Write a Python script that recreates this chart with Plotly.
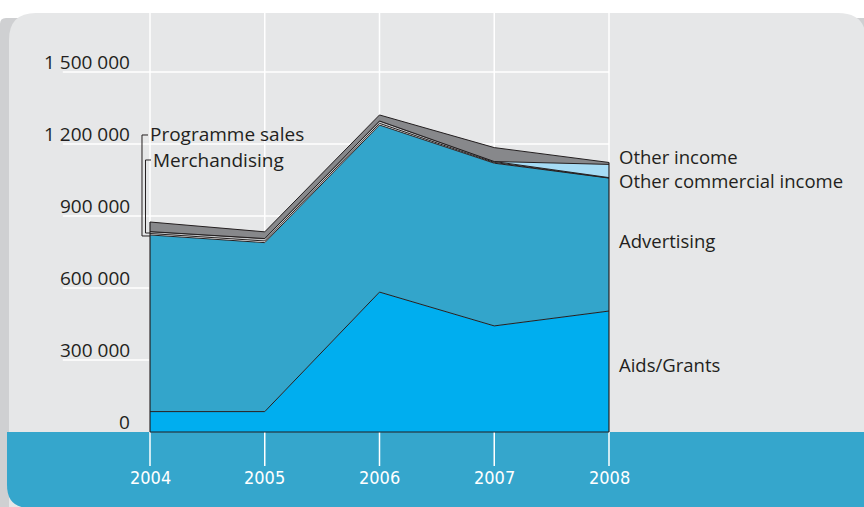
import numpy as np
import plotly.graph_objects as go

# ---------------- data ----------------
years = [2004, 2005, 2006, 2007, 2008]
aids_grants = [85000, 85000, 583000, 442000, 504000]
advertising = [736000, 704000, 696000, 678000, 554000]
programme_sales = [6000, 7000, 7000, 3000, 1000]
merchandising = [8000, 10000, 10000, 4000, 1000]
other_commercial_income = [0, 0, 0, 0, 55000]
other_income = [40000, 28000, 25000, 58000, 8000]

series_names = ["Aids/Grants", "Advertising", "Programme sales", "Merchandising",
                "Other commercial income", "Other income"]
series_values = [aids_grants, advertising, programme_sales, merchandising,
                 other_commercial_income, other_income]

ytick_vals = [0, 300000, 600000, 900000, 1200000, 1500000]
ytick_text = ["0", "300 000", "600 000", "900 000", "1 200 000", "1 500 000"]

# ---------------- styles ----------------
W, H = 864, 507
colors = ["#00aeef", "#33a5cb", "#ffffff", "#c5c7c9", "#a6dcf5", "#87888b"]
DARK = "#231f20"
PANEL = "#e6e7e8"
BAND = "#35a6cc"
FONT = "Open Sans"
YEAR_FONT = "DejaVu Sans Condensed, Roboto Condensed, Roboto, sans-serif"

def px(x):
    return x / W

def py(y):
    return 1 - y / H

def path(points_cmds):
    out = []
    for c in points_cmds:
        if isinstance(c, str):
            out.append(c)
        else:
            out.append(f"{px(c[0]):.5f},{py(c[1]):.5f}")
    return " ".join(out)

fig = go.Figure()

totals = np.sum(np.array(series_values), axis=0)

for name, vals, col in zip(series_names, series_values, colors):
    fig.add_trace(go.Scatter(
        x=years, y=vals, name=name, stackgroup="one", mode="lines",
        fillcolor=col, line=dict(color=DARK, width=1), hoverinfo="skip"))

# outline edges of the stacked block
fig.add_trace(go.Scatter(x=[years[0], years[0]], y=[0, totals[0]], mode="lines",
                         line=dict(color=DARK, width=1.2), hoverinfo="skip"))
fig.add_trace(go.Scatter(x=[years[-1], years[-1]], y=[0, totals[-1]], mode="lines",
                         line=dict(color=DARK, width=1.2), hoverinfo="skip"))
fig.add_trace(go.Scatter(x=[years[0], years[-1]], y=[0, 0], mode="lines",
                         line=dict(color=DARK, width=1.2), hoverinfo="skip"))

shapes = []
# shadow
shapes.append(dict(type="path", xref="paper", yref="paper", layer="below",
                   path=path(["M", (0, 24), "Q", (0, 18), (6, 18), "L", (W, 18), "L", (W, H), "L", (0, H), "Z"]),
                   fillcolor="#cfd0d2", line=dict(width=0)))
# panel
shapes.append(dict(type="path", xref="paper", yref="paper", layer="below",
                   path=path(["M", (9, 40), "Q", (9, 13), (36, 13), "L", (838, 13),
                              "Q", (866, 13), (866, 40), "L", (866, H), "L", (9, H), "Z"]),
                   fillcolor=PANEL, line=dict(width=0)))
# bottom band
shapes.append(dict(type="path", xref="paper", yref="paper", layer="below",
                   path=path(["M", (7, 432), "L", (866, 432), "L", (866, 508), "L", (30, 508),
                              "Q", (7, 508), (7, 485), "Z"]),
                   fillcolor=BAND, line=dict(width=0)))
# vertical gridlines / ticks
for yr in years:
    shapes.append(dict(type="line", xref="x", yref="paper", layer="below",
                       x0=yr, x1=yr, y0=py(13), y1=py(466),
                       line=dict(color="white", width=1.5)))
# horizontal gridlines
for v in ytick_vals[1:]:
    shapes.append(dict(type="line", xref="x", yref="y", layer="below",
                       x0=years[0] - 0.76, x1=years[-1], y0=v, y1=v,
                       line=dict(color="white", width=1.5)))
# leader lines
shapes.append(dict(type="path", xref="paper", yref="paper",
                   path=path(["M", (148, 135), "L", (142, 135), "L", (142, 236), "L", (150, 236)]),
                   line=dict(color=DARK, width=1)))
shapes.append(dict(type="path", xref="paper", yref="paper",
                   path=path(["M", (151, 160), "L", (145.5, 160), "L", (145.5, 233), "L", (150, 233)]),
                   line=dict(color=DARK, width=1)))

annotations = []
for v, t in zip(ytick_vals, ytick_text):
    annotations.append(dict(x=px(132), xref="paper", y=v, yref="y", text=t,
                            xanchor="right", yanchor="middle", yshift=10, showarrow=False,
                            font=dict(family=FONT, size=19, color=DARK)))
for yr in years:
    annotations.append(dict(x=yr, xref="x", y=py(477), yref="paper", text=str(yr),
                            xanchor="center", yanchor="middle", showarrow=False,
                            font=dict(family=YEAR_FONT, size=18, color="white")))

right_labels = [("Other income", 156), ("Other commercial income", 180),
                ("Advertising", 240), ("Aids/Grants", 364)]
for t, yy in right_labels:
    annotations.append(dict(x=px(617), xref="paper", y=py(yy), yref="paper", text=t,
                            xanchor="left", yanchor="middle", showarrow=False,
                            font=dict(family=FONT, size=18.5, color=DARK)))
left_labels = [("Programme sales", 148, 134), ("Merchandising", 151, 160)]
for t, xx, yy in left_labels:
    annotations.append(dict(x=px(xx), xref="paper", y=py(yy), yref="paper", text=t,
                            xanchor="left", yanchor="middle", showarrow=False,
                            font=dict(family=FONT, size=19, color=DARK)))

x0 = years[0] - 150 / 114.75
x1 = years[0] + (W - 150) / 114.75
y_per_px = 300000 / 72
fig.update_layout(
    width=W, height=H, margin=dict(l=0, r=0, t=0, b=0),
    paper_bgcolor="white", plot_bgcolor="rgba(0,0,0,0)",
    showlegend=False,
    xaxis=dict(visible=False, range=[x0, x1], fixedrange=True),
    yaxis=dict(visible=False, range=[-(H - 432) * y_per_px, 432 * y_per_px], fixedrange=True),
    shapes=shapes, annotations=annotations,
)

fig.write_html("out.html", config={"displayModeBar": False},
               post_script="document.body.style.margin='0';document.body.style.overflow='hidden';")
